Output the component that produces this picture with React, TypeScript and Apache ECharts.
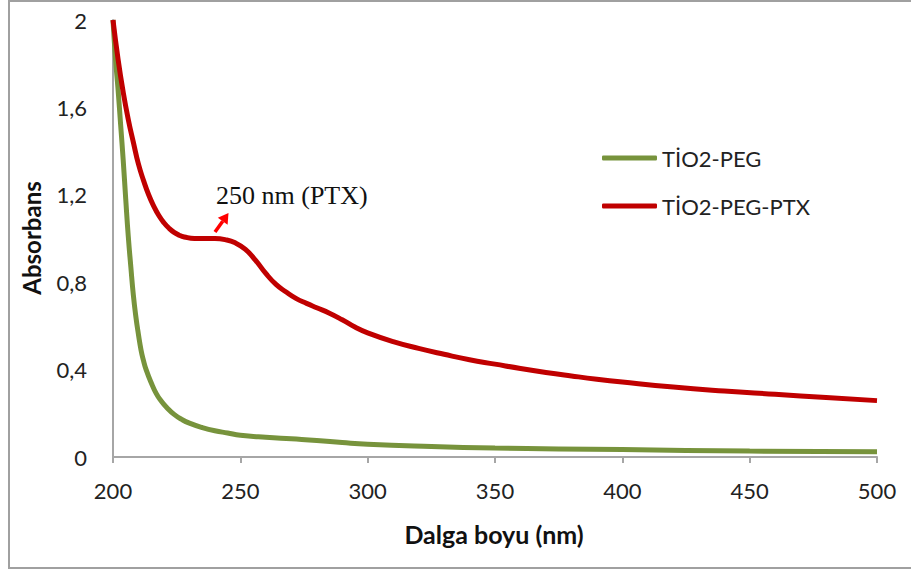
import React, { useEffect, useRef } from "react";
import * as echarts from "echarts";

const pegWavelengths = [200, 201, 202, 203, 204, 205, 206, 207, 208, 209, 210, 211, 212, 213, 215, 217, 219, 221, 224, 227, 230, 235, 240, 245, 250, 260, 270, 280, 290, 300, 325, 350, 375, 400, 450, 500];
const pegAbsorbance = [2.0, 1.82, 1.68, 1.52, 1.36, 1.18, 1.01, 0.87, 0.74, 0.64, 0.56, 0.49, 0.44, 0.4, 0.34, 0.29, 0.255, 0.228, 0.195, 0.172, 0.155, 0.135, 0.12, 0.11, 0.1, 0.09, 0.083, 0.076, 0.066, 0.058, 0.048, 0.041, 0.037, 0.034, 0.027, 0.024];

const ptxWavelengths = [200, 202, 204, 206, 208, 210, 212, 214, 216, 218, 220, 222, 224, 226, 228, 232, 236, 240, 244, 248, 252, 256, 260, 264, 268, 272, 276, 280, 285, 290, 295, 300, 310, 320, 330, 340, 350, 360, 370, 380, 390, 400, 420, 440, 460, 480, 500];
const ptxAbsorbance = [2.0, 1.82, 1.67, 1.545, 1.44, 1.34, 1.265, 1.2, 1.148, 1.105, 1.072, 1.047, 1.028, 1.015, 1.007, 1.0, 1.0, 1.0, 0.995, 0.98, 0.95, 0.9, 0.84, 0.79, 0.755, 0.725, 0.703, 0.683, 0.658, 0.628, 0.595, 0.568, 0.528, 0.497, 0.47, 0.445, 0.425, 0.405, 0.387, 0.371, 0.356, 0.343, 0.32, 0.302, 0.287, 0.272, 0.258];

const seriesNames = ["TİO2-PEG", "TİO2-PEG-PTX"];
const xTicks = [200, 250, 300, 350, 400, 450, 500];
const yTicks = [0, 0.4, 0.8, 1.2, 1.6, 2];
const annotationText = "250 nm (PTX)";
const xAxisTitle = "Dalga boyu (nm)";
const yAxisTitle = "Absorbans";

const SANS = "Lato";

export default function App() {
  const ref = useRef<HTMLDivElement>(null);
  useEffect(() => {
    if (!ref.current) return;
    const chart = echarts.init(ref.current, null, { renderer: "svg" });
    const pegData = pegWavelengths.map((w, i) => [w, pegAbsorbance[i]]);
    const ptxData = ptxWavelengths.map((w, i) => [w, ptxAbsorbance[i]]);

    // arrow geometry
    const tail = [215, 232];
    const tip = [228.5, 213];
    const dx = tip[0] - tail[0], dy = tip[1] - tail[1];
    const len = Math.hypot(dx, dy);
    const ux = dx / len, uy = dy / len;
    const px = -uy, py = ux;
    const hl = 10, hw = 6;
    const bc = [tip[0] - hl * ux, tip[1] - hl * uy];

    chart.setOption({
      animation: false,
      backgroundColor: "#ffffff",
      grid: { left: 113, right: 34, top: 20, bottom: 115, containLabel: false },
      xAxis: {
        type: "value",
        min: xTicks[0],
        max: xTicks[xTicks.length - 1],
        interval: 50,
        axisLine: { show: true, lineStyle: { color: "#a6a6a6", width: 2 } },
        axisTick: { show: true, length: 6, inside: false, lineStyle: { color: "#a6a6a6", width: 2 } },
        splitLine: { show: false },
        axisLabel: { color: "#222", fontFamily: SANS, fontSize: 22, margin: 22 },
      },
      yAxis: {
        type: "value",
        min: yTicks[0],
        max: yTicks[yTicks.length - 1],
        interval: 0.4,
        axisLine: { show: true, lineStyle: { color: "#a6a6a6", width: 2 } },
        axisTick: { show: false },
        splitLine: { show: false },
        axisLabel: {
          color: "#222",
          fontFamily: SANS,
          fontSize: 22,
          margin: 26,
          formatter: (v: number) => String(Math.round(v * 10) / 10).replace(".", ","),
        },
      },
      legend: {
        orient: "vertical",
        left: 597,
        top: 141,
        itemWidth: 55,
        itemHeight: 5,
        itemGap: 24,
        icon: "roundRect",
        textStyle: { color: "#222", fontFamily: SANS, fontSize: 22, lineHeight: 24 },
        data: seriesNames,
      },
      series: [
        {
          name: seriesNames[0],
          type: "line",
          data: pegData,
          smooth: 0.5,
          showSymbol: false,
          symbol: "none",
          lineStyle: { color: "#77933C", width: 5 },
          itemStyle: { color: "#77933C" },
          z: 2,
        },
        {
          name: seriesNames[1],
          type: "line",
          data: ptxData,
          smooth: 0.5,
          showSymbol: false,
          symbol: "none",
          lineStyle: { color: "#C00000", width: 5 },
          itemStyle: { color: "#C00000" },
          z: 3,
        },
      ],
      graphic: [
        {
          type: "rect",
          shape: { x: 9, y: 1, width: 960, height: 567 },
          style: { fill: "none", stroke: "#a0a0a0", lineWidth: 2 },
          silent: true,
          z: 0,
        },
        {
          type: "text",
          x: 31,
          y: 238,
          rotation: Math.PI / 2,
          style: {
            text: yAxisTitle,
            fill: "#111",
            fontFamily: SANS,
            fontWeight: "bold",
            fontSize: 24,
            align: "center",
            verticalAlign: "middle",
          },
        },
        {
          type: "text",
          x: 494,
          y: 534,
          style: {
            text: xAxisTitle,
            fill: "#111",
            fontFamily: SANS,
            fontWeight: "bold",
            fontSize: 25,
            align: "center",
            verticalAlign: "middle",
          },
        },
        {
          type: "text",
          x: 216,
          y: 195,
          style: {
            text: annotationText,
            fill: "#111",
            fontFamily: "Liberation Serif",
            fontSize: 26,
            align: "left",
            verticalAlign: "middle",
          },
        },
        {
          type: "line",
          shape: { x1: tail[0], y1: tail[1], x2: bc[0], y2: bc[1] },
          style: { stroke: "#ff0000", lineWidth: 3.5 },
        },
        {
          type: "polygon",
          shape: {
            points: [
              [tip[0], tip[1]],
              [bc[0] + hw * px, bc[1] + hw * py],
              [bc[0] - hw * px, bc[1] - hw * py],
            ],
          },
          style: { fill: "#ff0000" },
        },
      ],
    });
    return () => chart.dispose();
  }, []);
  return (
    <div
      ref={ref}
      style={{ position: "absolute", left: 0, top: 0, width: 911, height: 572 }}
    />
  );
}
